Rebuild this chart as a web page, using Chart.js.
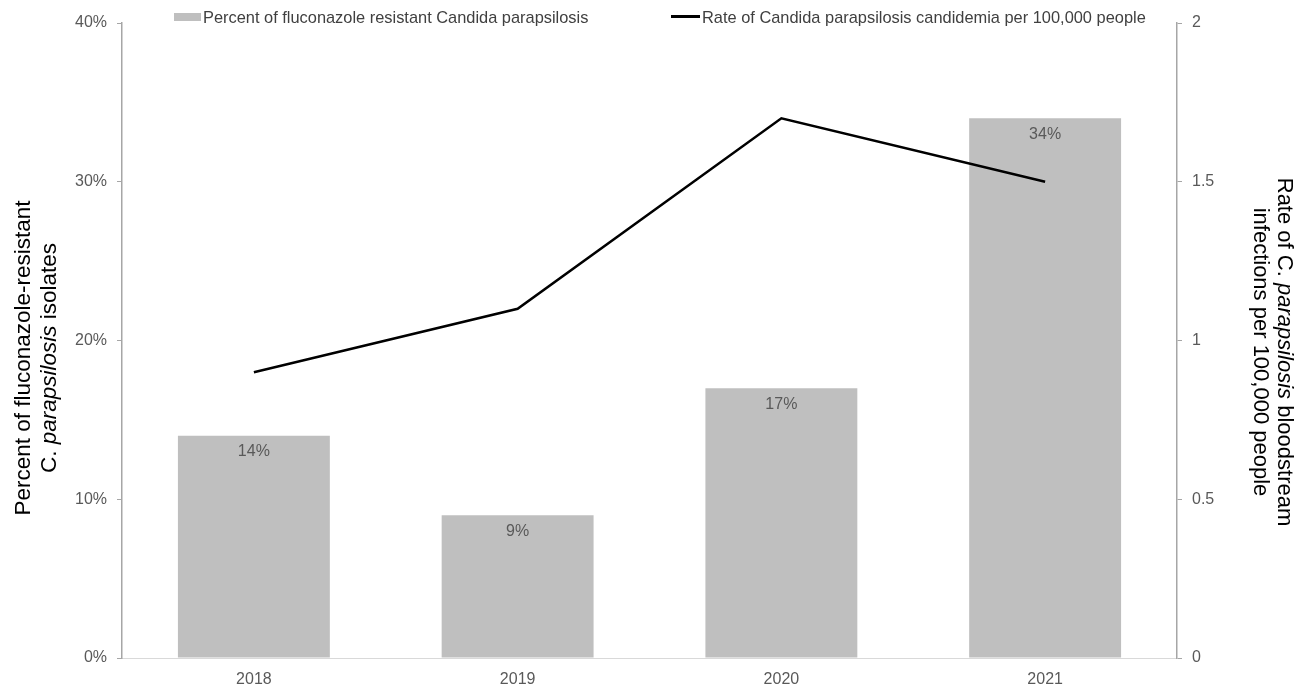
<!DOCTYPE html>
<html>
<head>
<meta charset="utf-8">
<script src="https://cdn.jsdelivr.net/npm/chart.js@4/dist/chart.umd.min.js"></script>
<style>
  html, body { margin: 0; padding: 0; background: #fff; }
  #wrap { position: relative; width: 1301px; height: 688px; }
</style>
</head>
<body>
<div id="wrap"><canvas id="c"></canvas></div>
<script>
// ---- data ----
const categories = ['2018', '2019', '2020', '2021'];
const resistantPercent = [14, 9, 17, 34];
const candidemiaRate = [0.9, 1.1, 1.7, 1.5];
const leftTicks = [0, 10, 20, 30, 40];
const rightTicks = [0, 0.5, 1, 1.5, 2];
const barLegend = 'Percent of fluconazole resistant Candida parapsilosis';
const lineLegend = 'Rate of Candida parapsilosis candidemia per 100,000 people';
const leftTitleLines = [
  [{ t: 'Percent of fluconazole-resistant', i: false }],
  [{ t: 'C. ', i: false }, { t: 'parapsilosis', i: true }, { t: ' isolates', i: false }]
];
const rightTitleLines = [
  [{ t: 'Rate of C. ', i: false }, { t: 'parapsilosis', i: true }, { t: ' bloodstream', i: false }],
  [{ t: 'infections per 100,000 people', i: false }]
];

const FONT = '"Liberation Sans", Arial, sans-serif';

function drawRich(ctx, segs, size, color) {
  let total = 0;
  const widths = segs.map(s => {
    ctx.font = (s.i ? 'italic ' : '') + size + 'px ' + FONT;
    const w = ctx.measureText(s.t).width;
    total += w;
    return w;
  });
  let x = -total / 2;
  ctx.fillStyle = color;
  ctx.textBaseline = 'middle';
  ctx.textAlign = 'left';
  segs.forEach((s, k) => {
    ctx.font = (s.i ? 'italic ' : '') + size + 'px ' + FONT;
    ctx.fillText(s.t, x, 0);
    x += widths[k];
  });
}

const decorPlugin = {
  id: 'decor',
  afterDatasetsDraw(chart) {
    const ctx = chart.ctx;
    const meta = chart.getDatasetMeta(0);
    ctx.save();
    ctx.font = '16px ' + FONT;
    ctx.fillStyle = '#595959';
    ctx.textAlign = 'center';
    ctx.textBaseline = 'middle';
    meta.data.forEach((bar, i) => {
      ctx.fillText(resistantPercent[i] + '%', bar.x, bar.y + 16);
    });
    ctx.restore();
  },
  afterDraw(chart) {
    const ctx = chart.ctx;
    ctx.save();
    leftTitleLines.forEach((line, k) => {
      ctx.save();
      ctx.translate(24 + k * 26, 358);
      ctx.rotate(-Math.PI / 2);
      drawRich(ctx, line, 22.5, '#000');
      ctx.restore();
    });
    rightTitleLines.forEach((line, k) => {
      ctx.save();
      ctx.translate(1284 - k * 24, 352);
      ctx.rotate(Math.PI / 2);
      drawRich(ctx, line, 22, '#000');
      ctx.restore();
    });
    // legend
    ctx.fillStyle = '#bfbfbf';
    ctx.fillRect(174, 13, 27, 8);
    ctx.font = '16.4px ' + FONT;
    ctx.fillStyle = '#404040';
    ctx.textAlign = 'left';
    ctx.textBaseline = 'middle';
    ctx.fillText(barLegend, 203, 18);
    ctx.strokeStyle = '#000';
    ctx.lineWidth = 3;
    ctx.beginPath();
    ctx.moveTo(671, 16.5);
    ctx.lineTo(700, 16.5);
    ctx.stroke();
    ctx.fillText(lineLegend, 702, 18);
    ctx.restore();
  }
};

new Chart(document.getElementById('c'), {
  type: 'bar',
  data: {
    labels: categories,
    datasets: [
      {
        type: 'bar',
        label: barLegend,
        data: resistantPercent,
        backgroundColor: '#bfbfbf',
        borderWidth: 0,
        barPercentage: 0.576,
        categoryPercentage: 1,
        yAxisID: 'y',
        order: 1
      },
      {
        type: 'line',
        label: lineLegend,
        data: candidemiaRate,
        borderColor: '#000',
        borderWidth: 2.5,
        pointRadius: 0,
        tension: 0,
        fill: false,
        yAxisID: 'y2',
        order: 0
      }
    ]
  },
  options: {
    responsive: true,
    maintainAspectRatio: false,
    animation: false,
    layout: { padding: { top: 23, left: 0, right: 0, bottom: 0 } },
    plugins: {
      legend: { display: false },
      tooltip: { enabled: false },
      title: { display: false }
    },
    scales: {
      x: {
        grid: { display: false },
        border: { display: true, color: '#d9d9d9', width: 1 },
        ticks: { color: '#595959', font: { family: FONT, size: 16 }, padding: 4 },
        afterFit(s) { s.height = 30; }
      },
      y: {
        position: 'left',
        min: 0, max: 40,
        afterBuildTicks(s) { s.ticks = leftTicks.map(v => ({ value: v })); },
        grid: { drawOnChartArea: false, drawTicks: true, tickLength: 5, color: '#a6a6a6', tickColor: '#a6a6a6' },
        border: { display: true, color: '#a6a6a6', width: 1.5 },
        ticks: { color: '#595959', font: { family: FONT, size: 16 }, padding: 10, callback: v => v + '%' },
        afterFit(s) { s.width = 122; }
      },
      y2: {
        position: 'right',
        min: 0, max: 2,
        afterBuildTicks(s) { s.ticks = rightTicks.map(v => ({ value: v })); },
        grid: { drawOnChartArea: false, drawTicks: true, tickLength: 5, color: '#a6a6a6', tickColor: '#a6a6a6' },
        border: { display: true, color: '#a6a6a6', width: 1.5 },
        ticks: { color: '#595959', font: { family: FONT, size: 16 }, padding: 10, callback: v => String(v) },
        afterFit(s) { s.width = 124; }
      }
    }
  },
  plugins: [decorPlugin]
});
</script>
</body>
</html>
